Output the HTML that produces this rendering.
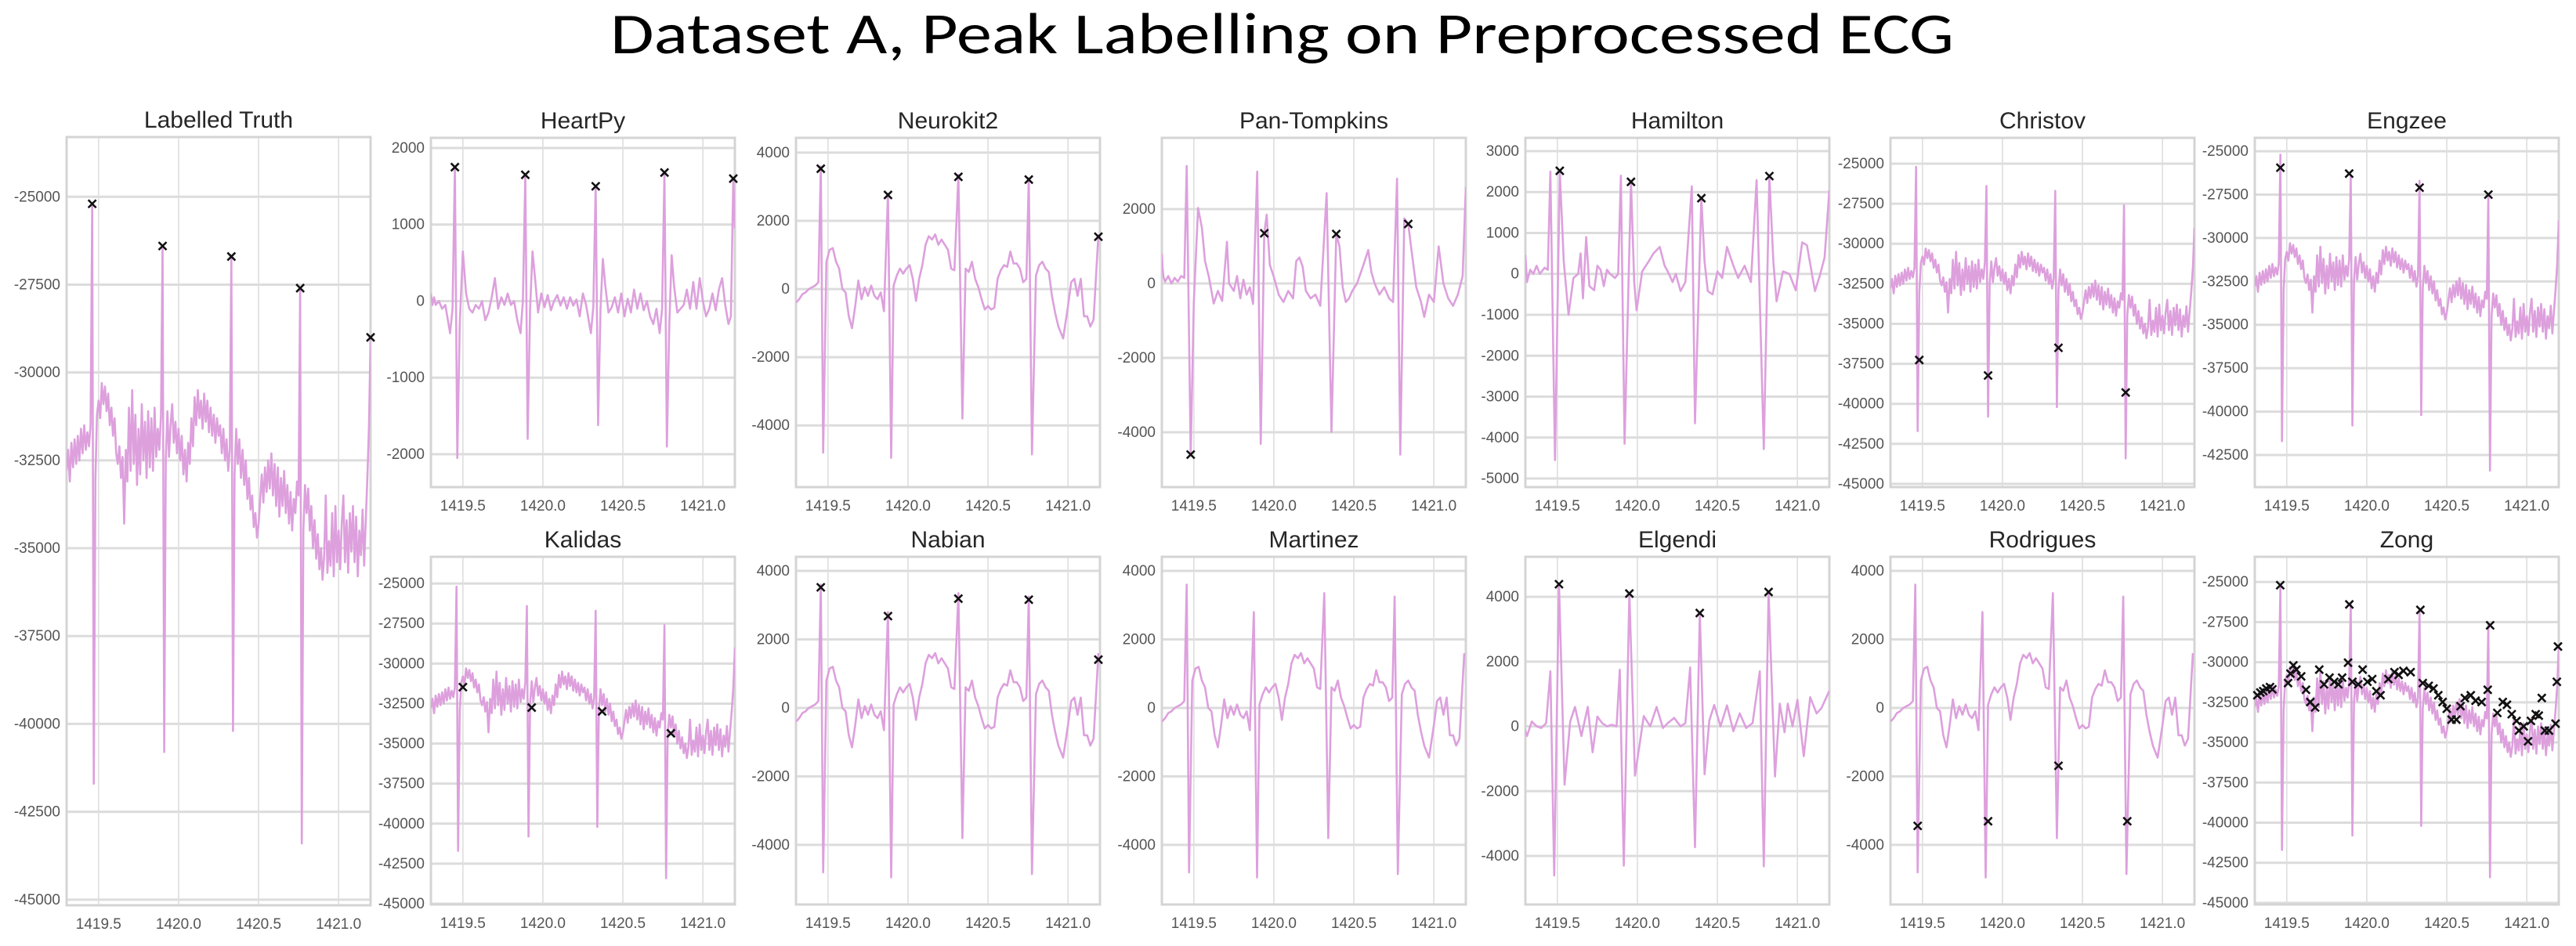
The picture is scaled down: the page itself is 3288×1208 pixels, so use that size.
<!DOCTYPE html>
<html><head><meta charset="utf-8"><title>Dataset A, Peak Labelling on Preprocessed ECG</title>
<style>
html,body{margin:0;padding:0;background:#fff;}
svg{display:block;}
.tick{font-family:"Liberation Sans Narrow","Liberation Sans",sans-serif;font-size:19px;fill:#555;}
.ptitle{font-family:"Liberation Sans",sans-serif;font-size:30px;fill:#262626;}
</style></head>
<body>
<svg id="fig" width="3288" height="1208" viewBox="0 0 3288 1208" xmlns="http://www.w3.org/2000/svg">
<rect x="0" y="0" width="3288" height="1208" fill="#fff"/>
<text x="779" y="68" font-family="Carlito,'Liberation Sans',sans-serif" font-size="74" fill="#000" textLength="1715" lengthAdjust="spacingAndGlyphs">Dataset A, Peak Labelling on Preprocessed ECG</text>
<g id="panels"></g>
</svg>
<script>
// ---------- DATA ----------
const xTickValues = [1419.5, 1420.0, 1420.5, 1421.0];
const xTickLabels = ["1419.5", "1420.0", "1420.5", "1421.0"];
const rawStart = 1419.30;
const rawStep = 0.01;
// raw ECG (uniform 0.01 s samples from 1419.30)
const rawValues = [
-32800,-32200,-33100,-32000,-32700,-31900,-32600,-31800,-32500,-31600,
-32300,-31500,-32200,-31700,-32100,-31500,-25200,-41700,-33000,-31200,
-30800,-31300,-30300,-30900,-30400,-31100,-30600,-31500,-31000,-31800,
-31300,-32300,-32600,-32100,-33000,-32400,-34300,-32200,-33100,-31000,
-32800,-30500,-32600,-31200,-33200,-31600,-32900,-30900,-32500,-31400,
-33000,-31100,-32700,-31300,-32800,-31000,-32400,-31600,-32200,-31200,
-26400,-40800,-32500,-31100,-32400,-31500,-30900,-32000,-31400,-32300,
-31600,-32500,-31800,-32900,-32200,-33100,-32000,-32600,-31300,-32100,
-30700,-31500,-30500,-31300,-30800,-31600,-30600,-31400,-30800,-31700,
-31000,-31800,-31200,-32000,-31300,-31800,-31500,-32300,-31600,-32500,
-31900,-32800,-32200,-26700,-40200,-32900,-31600,-32600,-31900,-33000,
-32200,-33200,-32500,-33600,-33000,-33900,-33500,-34400,-34000,-34700,
-34300,-33600,-32900,-33700,-32700,-33400,-32500,-33300,-32300,-33500,
-32600,-33800,-32700,-34100,-33000,-33800,-32800,-34000,-33200,-34300,
-33400,-34500,-33600,-34000,-33100,-33500,-27600,-43400,-34500,-33200,
-34000,-33300,-34500,-33800,-35000,-34200,-35300,-34600,-35600,-35000,
-35900,-35200,-33500,-35700,-34800,-35500,-34000,-35800,-33800,-35400,
-34500,-35600,-34300,-33500,-35400,-34200,-35700,-34000,-35100,-33800,
-35400,-34100,-35800,-34500,-35200,-33900,-35500,-34200,-33000,-31500,
-29000];
// Neurokit-cleaned signal [time, value]
const nkSignal = [[1419.30,-400],[1419.32,-300],[1419.34,-150],[1419.36,-100],[1419.38,0],[1419.40,50],[1419.42,100],[1419.44,200],[1419.455,3600],[1419.47,-4800],[1419.49,800],
[1419.51,1150],[1419.53,1200],[1419.55,800],[1419.57,600],[1419.59,0],[1419.61,-100],[1419.63,-800],[1419.65,-1150],[1419.67,-500],[1419.69,250],[1419.71,-300],[1419.73,50],[1419.75,-200],[1419.77,100],[1419.79,-200],[1419.81,-300],[1419.83,-100],[1419.85,-650],
[1419.875,2800],[1419.895,-4950],[1419.91,100],[1419.93,400],[1419.95,600],[1419.97,450],[1419.99,600],
[1420.01,700],[1420.03,300],[1420.05,-350],[1420.07,300],[1420.09,700],[1420.11,1300],[1420.13,1550],[1420.15,1450],[1420.17,1600],[1420.19,1300],[1420.21,1450],[1420.23,1300],[1420.25,1150],[1420.27,600],[1420.29,550],
[1420.315,3350],[1420.34,-3800],[1420.36,600],[1420.38,500],[1420.40,800],[1420.42,300],[1420.44,50],[1420.46,-300],[1420.48,-600],[1420.50,-500],[1420.52,-600],[1420.54,-550],[1420.56,300],[1420.58,550],[1420.60,700],[1420.62,650],[1420.64,1100],[1420.66,750],[1420.68,750],[1420.70,600],[1420.72,200],[1420.74,300],
[1420.755,3250],[1420.775,-4850],[1420.80,400],[1420.82,700],[1420.84,800],[1420.86,600],[1420.88,500],[1420.90,-200],[1420.92,-700],[1420.94,-1100],
[1420.97,-1450],[1421.00,-500],[1421.02,200],[1421.04,300],[1421.06,-200],[1421.08,300],[1421.10,-800],[1421.12,-800],[1421.14,-1100],[1421.16,-900],[1421.19,1600]];
const hpSignal = [[1419.30,100],[1419.31,-50],[1419.32,50],[1419.33,-50],[1419.35,0],[1419.37,-100],[1419.39,-50],[1419.42,-420],[1419.435,-100],[1419.45,1750],[1419.465,-2050],[1419.48,-300],[1419.50,650],[1419.52,100],[1419.54,-100],[1419.56,-150],[1419.58,-50],[1419.60,-100],[1419.62,0],[1419.64,-250],[1419.66,-150],[1419.68,50],[1419.70,300],[1419.72,-100],[1419.74,50],[1419.76,-50],[1419.78,100],[1419.80,-50],[1419.82,0],[1419.84,-250],[1419.86,-420],[1419.875,0],[1419.89,1650],[1419.905,-1800],[1419.92,-100],[1419.935,650],[1419.955,200],[1419.97,-150],[1419.99,100],[1420.01,-80],[1420.03,80],[1420.05,-120],[1420.07,0],[1420.09,80],[1420.11,-60],[1420.13,50],[1420.15,-100],[1420.17,50],[1420.19,-60],[1420.21,20],[1420.23,-200],[1420.25,100],[1420.27,-50],[1420.30,-420],[1420.315,-80],[1420.33,1500],[1420.345,-1620],[1420.36,-100],[1420.375,550],[1420.39,200],[1420.41,-150],[1420.43,-80],[1420.45,50],[1420.47,-150],[1420.49,100],[1420.51,-200],[1420.53,30],[1420.55,-150],[1420.57,150],[1420.59,-100],[1420.61,100],[1420.63,-120],[1420.65,0],[1420.67,-200],[1420.69,-300],[1420.71,-100],[1420.73,-420],[1420.745,-100],[1420.76,1680],[1420.775,-1900],[1420.79,-300],[1420.805,600],[1420.82,200],[1420.84,-150],[1420.86,-100],[1420.88,-50],[1420.90,150],[1420.92,-100],[1420.94,250],[1420.96,-100],[1420.98,300],[1421.00,0],[1421.02,-200],[1421.04,-100],[1421.06,100],[1421.08,-120],[1421.10,150],[1421.12,300],[1421.14,-50],[1421.16,-300],[1421.175,-200],[1421.19,1600],[1421.2,950]];
const ptSignal = [[1419.30,800],[1419.305,400],[1419.31,180],[1419.32,50],[1419.34,200],[1419.36,0],[1419.38,150],[1419.40,50],[1419.42,200],[1419.44,150],[1419.455,3160],[1419.48,-4600],[1419.50,-500],[1419.526,2030],[1419.55,1500],[1419.57,600],[1419.594,180],[1419.624,-540],[1419.65,-200],[1419.677,-470],[1419.707,1120],[1419.72,0],[1419.75,-200],[1419.77,200],[1419.79,-400],[1419.81,100],[1419.83,-300],[1419.85,-100],[1419.87,-550],[1419.896,3010],[1419.918,-4310],[1419.94,1350],[1419.955,1850],[1419.975,500],[1420.0,180],[1420.03,-300],[1420.06,-500],[1420.09,-200],[1420.12,-400],[1420.14,600],[1420.16,700],[1420.18,450],[1420.20,-200],[1420.23,-400],[1420.26,-300],[1420.29,-600],[1420.33,2430],[1420.36,-3990],[1420.39,1330],[1420.41,1000],[1420.43,-100],[1420.45,-500],[1420.47,-400],[1420.49,-200],[1420.52,0],[1420.56,500],[1420.59,900],[1420.61,300],[1420.63,0],[1420.66,-300],[1420.69,-100],[1420.72,-400],[1420.745,-500],[1420.77,2820],[1420.79,-4600],[1420.815,1750],[1420.84,1600],[1420.86,900],[1420.89,-100],[1420.92,-500],[1420.94,-900],[1420.97,-300],[1421.00,-500],[1421.03,1000],[1421.06,0],[1421.09,-400],[1421.12,-600],[1421.15,-300],[1421.18,200],[1421.2,2600]];
const hamSignal = [[1419.30,460],[1419.31,-200],[1419.33,100],[1419.35,0],[1419.37,200],[1419.39,0],[1419.42,150],[1419.44,100],[1419.456,2500],[1419.485,-4550],[1419.515,2500],[1419.54,300],[1419.57,-1000],[1419.60,-100],[1419.63,0],[1419.645,500],[1419.66,-600],[1419.68,900],[1419.70,-300],[1419.73,-400],[1419.75,200],[1419.77,100],[1419.79,-300],[1419.81,100],[1419.83,0],[1419.86,-100],[1419.88,0],[1419.897,2400],[1419.92,-4150],[1419.96,2250],[1419.98,-200],[1419.995,-890],[1420.03,60],[1420.07,300],[1420.10,500],[1420.14,660],[1420.17,200],[1420.19,60],[1420.22,-200],[1420.24,0],[1420.27,-420],[1420.30,-200],[1420.34,2140],[1420.36,-3650],[1420.40,1850],[1420.42,300],[1420.44,-420],[1420.47,-500],[1420.50,60],[1420.53,-100],[1420.56,660],[1420.60,200],[1420.63,-100],[1420.67,200],[1420.71,-200],[1420.745,2290],[1420.79,-4280],[1420.825,2390],[1420.85,300],[1420.87,-670],[1420.91,60],[1420.95,0],[1420.99,-400],[1421.03,770],[1421.06,700],[1421.11,-420],[1421.14,-50],[1421.17,400],[1421.2,2050]];
const elgSignal = [[1419.29,0],[1419.31,-300],[1419.34,150],[1419.37,0],[1419.40,-50],[1419.43,100],[1419.456,1700],[1419.48,-4600],[1419.51,4400],[1419.545,-1800],[1419.58,150],[1419.61,600],[1419.65,-300],[1419.69,600],[1419.72,-800],[1419.75,300],[1419.78,100],[1419.81,0],[1419.84,50],[1419.87,0],[1419.89,1750],[1419.915,-4300],[1419.95,4100],[1419.985,-1520],[1420.04,320],[1420.08,0],[1420.12,600],[1420.16,-50],[1420.19,100],[1420.23,260],[1420.27,0],[1420.30,100],[1420.33,1820],[1420.36,-3730],[1420.39,3500],[1420.42,-1480],[1420.45,180],[1420.48,660],[1420.52,0],[1420.56,650],[1420.60,-150],[1420.64,400],[1420.68,-50],[1420.72,100],[1420.765,1700],[1420.79,-4320],[1420.82,4150],[1420.86,-1550],[1420.89,700],[1420.92,-180],[1420.94,700],[1420.97,0],[1421.00,820],[1421.04,-920],[1421.08,900],[1421.12,400],[1421.15,560],[1421.2,1100]];
// detected peaks [time, value]
const truthPeaks = [[1419.46,-25200],[1419.90,-26400],[1420.33,-26700],[1420.76,-27600],[1421.20,-29000]];
const heartpyPeaks = [[1419.45,1750],[1419.89,1650],[1420.33,1500],[1420.76,1680],[1421.19,1600]];
const neurokitPeaks = [[1419.455,3530],[1419.875,2760],[1420.315,3290],[1420.755,3210],[1421.19,1535]];
const panTompkinsPeaks = [[1419.48,-4600],[1419.94,1350],[1420.39,1330],[1420.84,1600]];
const hamiltonPeaks = [[1419.515,2520],[1419.96,2250],[1420.40,1850],[1420.825,2390]];
const christovPeaks = [[1419.48,-37260],[1419.91,-38230],[1420.35,-36500],[1420.77,-39290]];
const engzeePeaks = [[1419.46,-25950],[1419.89,-26290],[1420.33,-27100],[1420.76,-27500]];
const kalidasPeaks = [[1419.50,-31470],[1419.93,-32750],[1420.37,-32990],[1420.80,-34360]];
const nabianPeaks = [[1419.455,3520],[1419.875,2680],[1420.315,3190],[1420.755,3160],[1421.19,1410]];
const martinezPeaks = [];
const elgendiPeaks = [[1419.51,4390],[1419.95,4100],[1420.39,3500],[1420.82,4150]];
const rodriguesPeaks = [[1419.47,-3445],[1419.91,-3310],[1420.35,-1690],[1420.78,-3310]];
const zongPeaks = [[1419.459,-25200],[1419.316,-32060],[1419.335,-31890],[1419.353,-31800],[1419.372,-31640],[1419.395,-31550],[1419.410,-31690],[1419.508,-31300],[1419.523,-30710],[1419.541,-30200],[1419.560,-30460],[1419.590,-30880],[1419.620,-31720],[1419.647,-32480],[1419.677,-32820],[1419.703,-30460],[1419.733,-31380],[1419.767,-30960],[1419.797,-31220],[1419.823,-31380],[1419.846,-30960],[1419.883,-30030],[1419.891,-26400],[1419.910,-31220],[1419.947,-31380],[1419.974,-30460],[1420.004,-31220],[1420.034,-31050],[1420.060,-31810],[1420.086,-32060],[1420.135,-31050],[1420.173,-30620],[1420.199,-30790],[1420.229,-30540],[1420.274,-30620],[1420.335,-26740],[1420.350,-31300],[1420.387,-31470],[1420.417,-31640],[1420.447,-32060],[1420.474,-32480],[1420.500,-32900],[1420.530,-33580],[1420.560,-33580],[1420.586,-32740],[1420.613,-32230],[1420.650,-32060],[1420.680,-32400],[1420.718,-32480],[1420.756,-31720],[1420.771,-27700],[1420.816,-33160],[1420.850,-32480],[1420.876,-32650],[1420.906,-33240],[1420.936,-33660],[1420.951,-34260],[1420.981,-34000],[1421.008,-34930],[1421.026,-33660],[1421.056,-33240],[1421.075,-33330],[1421.094,-32230],[1421.113,-34260],[1421.139,-34260],[1421.180,-33830],[1421.188,-31220],[1421.195,-29020]];
// y tick values per axis type
const rawTicks = [-25000,-27500,-30000,-32500,-35000,-37500,-40000,-42500,-45000];
const engzeeTicks = [-25000,-27500,-30000,-32500,-35000,-37500,-40000,-42500];
const heartpyTicks = [2000,1000,0,-1000,-2000];
const nkTicks = [4000,2000,0,-2000,-4000];
const ptTicks = [2000,0,-2000,-4000];
const hamTicks = [3000,2000,1000,0,-1000,-2000,-3000,-4000,-5000];

// ---------- DRAW ----------
const rawSignal = rawValues.map((v, i) => [rawStart + i * rawStep, v]);
const NS = "http://www.w3.org/2000/svg";
const root = document.getElementById("panels");
const X_MIN = 1419.3, X_MAX = 1421.2;
function mk(tag, attrs, parent) {
  const e = document.createElementNS(NS, tag);
  for (const k in attrs) e.setAttribute(k, attrs[k]);
  (parent || root).appendChild(e);
  return e;
}
const L = [550, 1016, 1483, 1947, 2413, 2878];
const W = 388;
const R1 = [176, 622], R2 = [711, 1155];
const panels = [
  {id:"labelled-truth", title:"Labelled Truth", box:[85,175,473,1156], y:[-45160,-23300], ticks:rawTicks, sig:rawSignal, pk:truthPeaks},
  {id:"heartpy", title:"HeartPy", box:[L[0],R1[0],L[0]+W,R1[1]], y:[-2430,2133], ticks:heartpyTicks, sig:hpSignal, pk:heartpyPeaks},
  {id:"neurokit2", title:"Neurokit2", box:[L[1],R1[0],L[1]+W,R1[1]], y:[-5810,4435], ticks:nkTicks, sig:nkSignal, pk:neurokitPeaks},
  {id:"pan-tompkins", title:"Pan-Tompkins", box:[L[2],R1[0],L[2]+W,R1[1]], y:[-5474,3916], ticks:ptTicks, sig:ptSignal, pk:panTompkinsPeaks},
  {id:"hamilton", title:"Hamilton", box:[L[3],R1[0],L[3]+W,R1[1]], y:[-5210,3325], ticks:hamTicks, sig:hamSignal, pk:hamiltonPeaks},
  {id:"christov", title:"Christov", box:[L[4],R1[0],L[4]+W,R1[1]], y:[-45200,-23385], ticks:rawTicks, sig:rawSignal, pk:christovPeaks},
  {id:"engzee", title:"Engzee", box:[L[5],R1[0],L[5]+W,R1[1]], y:[-44350,-24230], ticks:engzeeTicks, sig:rawSignal, pk:engzeePeaks},
  {id:"kalidas", title:"Kalidas", box:[L[0],R2[0],L[0]+W,R2[1]], y:[-45050,-23330], ticks:rawTicks, sig:rawSignal, pk:kalidasPeaks},
  {id:"nabian", title:"Nabian", box:[L[1],R2[0],L[1]+W,R2[1]], y:[-5740,4412], ticks:nkTicks, sig:nkSignal, pk:nabianPeaks},
  {id:"martinez", title:"Martinez", box:[L[2],R2[0],L[2]+W,R2[1]], y:[-5740,4412], ticks:nkTicks, sig:nkSignal, pk:martinezPeaks},
  {id:"elgendi", title:"Elgendi", box:[L[3],R2[0],L[3]+W,R2[1]], y:[-5500,5236], ticks:nkTicks, sig:elgSignal, pk:elgendiPeaks},
  {id:"rodrigues", title:"Rodrigues", box:[L[4],R2[0],L[4]+W,R2[1]], y:[-5740,4412], ticks:nkTicks, sig:nkSignal, pk:rodriguesPeaks},
  {id:"zong", title:"Zong", box:[L[5],R2[0],L[5]+W,R2[1]], y:[-45100,-23430], ticks:rawTicks, sig:rawSignal, pk:zongPeaks}
];
panels.forEach(p => {
  const [x0, y0, x1, y1] = p.box;
  const sx = t => x0 + (t - X_MIN) / (X_MAX - X_MIN) * (x1 - x0);
  const sy = v => y1 - (v - p.y[0]) / (p.y[1] - p.y[0]) * (y1 - y0);
  const g = mk("g", {});
  
  
  const clipId = "clip-" + p.id;
  const cp = mk("clipPath", {id: clipId}, g);
  mk("rect", {x:x0, y:y0, width:x1-x0, height:y1-y0}, cp);
  // grid
  p.ticks.forEach((v, i) => {
    const yy = sy(v);
    const gl = mk("line", {x1:x0, x2:x1, y1:yy, y2:yy, stroke:"#dcdcdc", "stroke-width":3}, g);
    
    
    const tl = mk("text", {x:x0-8, y:yy+6, "text-anchor":"end", class:"tick"}, g);
    tl.textContent = String(v);
    
    
  });
  xTickValues.forEach((t, i) => {
    const xx = sx(t);
    const gl = mk("line", {x1:xx, x2:xx, y1:y0, y2:y1, stroke:"#dedede", "stroke-width":1.6}, g);
    
    
    const tl = mk("text", {x:xx, y:y1+30, "text-anchor":"middle", class:"tick"}, g);
    tl.textContent = xTickLabels[i];
    
    
  });
  // frame
  const fr = mk("rect", {x:x0, y:y0, width:x1-x0, height:y1-y0, fill:"none", stroke:"#d4d4d4", "stroke-width":3}, g);
  
  
  // signal
  const d = p.sig.map((pt, i) => (i ? "L" : "M") + sx(pt[0]).toFixed(1) + " " + sy(pt[1]).toFixed(1)).join("");
  const path = mk("path", {d:d, fill:"none", stroke:"#dda0dd", "stroke-width":2.6, "stroke-linejoin":"round", "clip-path":"url(#"+clipId+")"}, g);
  
  
  // peaks
  p.pk.forEach(pt => {
    const cx = sx(pt[0]), cy = sy(pt[1]), s = 5;
    const m = mk("path", {d:`M${cx-s} ${cy-s}L${cx+s} ${cy+s}M${cx-s} ${cy+s}L${cx+s} ${cy-s}`, stroke:"#111", "stroke-width":2.6, fill:"none"}, g);
    
    
  });
  // title
  const tt = mk("text", {x:(x0+x1)/2, y:y0-12, "text-anchor":"middle", class:"ptitle"}, g);
  tt.textContent = p.title;
  
  
});
</script>
</body></html>
